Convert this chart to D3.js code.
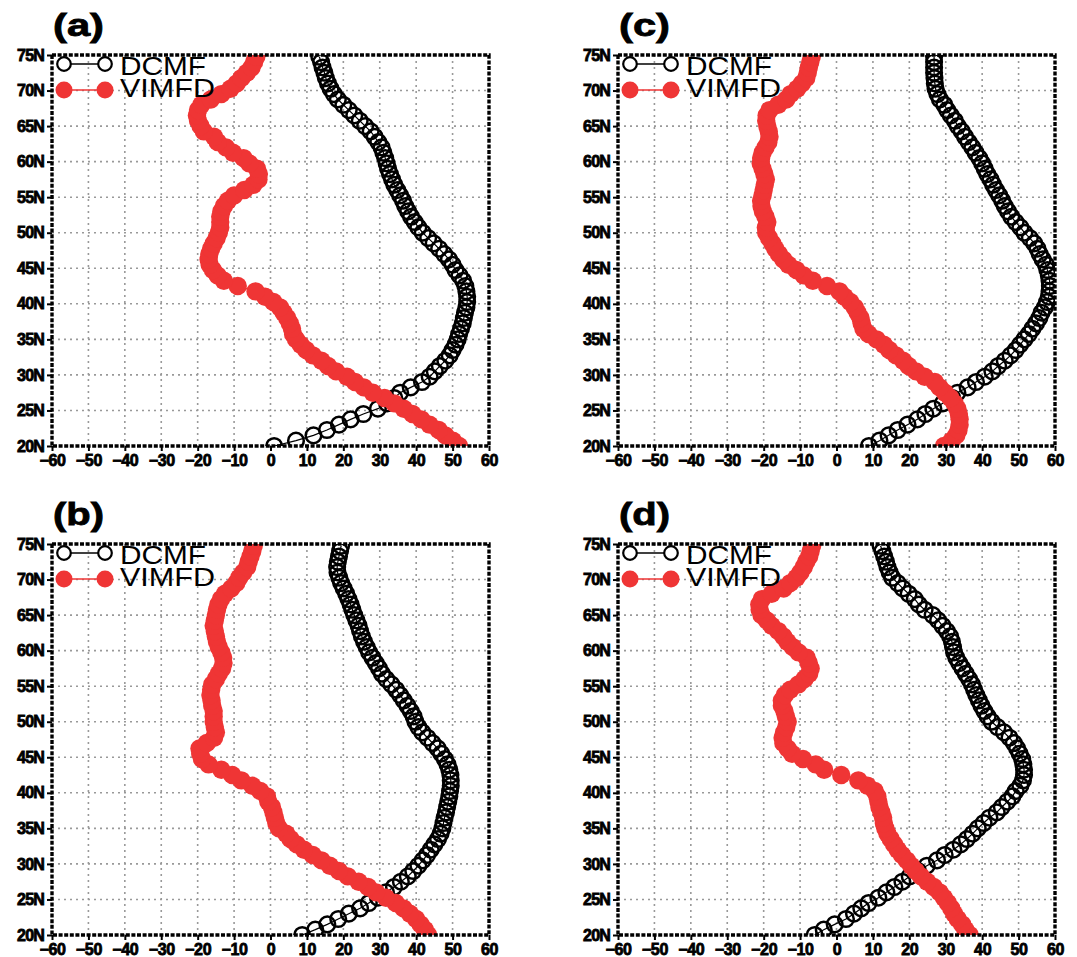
<!DOCTYPE html>
<html>
<head>
<meta charset="utf-8">
<script src="https://cdn.jsdelivr.net/npm/d3@7"></script>
<style>
  body { margin: 0; background: #fff; }
  svg text { font-family: "Liberation Sans", Arial, sans-serif; }
</style>
</head>
<body>
<div id="chart-area"></div>
<script>
// Data
// ****
const lat = [20, 20.75, 21.5, 22.25, 23, 23.75, 24.5, 25.25, 26, 26.75,
  27.5, 28.25, 29, 29.75, 30.5, 31.25, 32, 32.75, 33.5, 34.25,
  35, 35.75, 36.5, 37.25, 38, 38.75, 39.5, 40.25, 41, 41.75,
  42.5, 43.25, 44, 44.75, 45.5, 46.25, 47, 47.75, 48.5, 49.25,
  50, 50.75, 51.5, 52.25, 53, 53.75, 54.5, 55.25, 56, 56.75,
  57.5, 58.25, 59, 59.75, 60.5, 61.25, 62, 62.75, 63.5, 64.25,
  65, 65.75, 66.5, 67.25, 68, 68.75, 69.5, 70.25, 71, 71.75,
  72.5, 73.25, 74, 74.75]

const xTicks = [-60, -50, -40, -30, -20, -10, 0, 10, 20, 30, 40, 50, 60]
const yTicks = [20, 25, 30, 35, 40, 45, 50, 55, 60, 65, 70, 75]
const seriesNames = ["DCMF", "VIMFD"]

const dcmfA = [1, 7, 11.8, 15.5, 18.8, 22, 25.5, 29.5, 32, 34,
  35.6, 38.5, 41.6, 43.7, 45.1, 46.5, 48, 49.2, 50, 50.8,
  51.4, 51.8, 52.3, 52.8, 53.1, 53.4, 53.8, 54, 54, 53.8,
  53.5, 52.9, 51.9, 50.8, 50, 49, 47.7, 46.3, 44.8, 43.3,
  41.8, 40.6, 39.6, 38.6, 37.8, 37, 36.4, 35.6, 34.8, 34,
  33.4, 32.8, 32.3, 31.9, 31.5, 31, 30.5, 29.6, 28.6, 27.5,
  26, 24.5, 23, 21.5, 20, 18.5, 17.4, 16.5, 15.8, 15.2,
  14.8, 14.3, 13.9, 13.4]
const vimfdA = [51.8, 50.1, 48, 46.2, 43.7, 41.4, 39, 36.6, 34, 31.3,
  28.1, 25.6, 23.2, 21, 18, 15.8, 14, 11.6, 9.8, 8.3,
  7, 6.2, 5.9, 5.3, 4.6, 3.6, 2.6, 0.8, -1.5, -4.1,
  -9, -12.8, -14.5, -15.8, -16.7, -17, -16.8, -16.3, -15.6, -14.8,
  -14.2, -13.8, -13.8, -13.8, -13.5, -12.8, -11.7, -10, -7.2, -4.7,
  -3.3, -3.2, -3.7, -5.8, -7.4, -10.3, -12.2, -14.5, -15.5, -18.3,
  -19.2, -19.9, -20.2, -19.9, -19, -16.4, -13.5, -11, -9.3, -8,
  -6.5, -5.2, -4.5, -3.9]

const dcmfB = [8.7, 12.3, 15.6, 18.6, 21.5, 24.6, 27, 29.5, 31.7, 33.9,
  35.8, 37.7, 39.2, 40.6, 41.8, 43, 44, 45, 46, 46.7,
  47.2, 47.5, 47.8, 48.2, 48.5, 48.8, 49.1, 49.3, 49.5, 49.5,
  49.4, 49.1, 48.6, 47.9, 46.9, 45.9, 44.5, 43.1, 41.7, 40.6,
  39.8, 39.3, 38.5, 37.6, 36.6, 35.6, 34.5, 33.2, 31.8, 30.6,
  29.8, 28.9, 28, 27.1, 26.4, 25.7, 25.1, 24.6, 24.2, 23.6,
  23, 22.5, 22, 21.4, 20.8, 20.1, 19.4, 18.9, 18.4, 18.3,
  18.5, 18.8, 19.1, 19.4]
const vimfdB = [43.3, 42.4, 41.2, 40, 38.3, 36.5, 34.4, 31.7, 29, 26.8,
  24.2, 21.2, 18.8, 16.3, 14, 11.6, 9.2, 7.2, 5.5, 4.3,
  2.3, 1.6, 1.2, 0.8, 0.4, -0.6, -1, -2.8, -5, -8,
  -10.5, -13.5, -17, -18.8, -19.3, -19.5, -17.5, -15.5, -15, -15.3,
  -15.6, -15.6, -15.6, -16, -16.2, -16.5, -16.3, -16, -15, -14.2,
  -13.3, -12.9, -13, -13.5, -14.2, -14.7, -15, -15.3, -15.6, -15.3,
  -15, -14.7, -14.3, -13.6, -12.5, -10.8, -9.4, -8.6, -7.5, -6.4,
  -6, -5.5, -5, -4.6]

const dcmfC = [8.9, 11.8, 14.3, 16.8, 19.5, 22.2, 24.4, 26.6, 29.2, 31.8,
  33.2, 36, 38.3, 40.7, 42.8, 44.4, 46.2, 47.8, 49.2, 50.4,
  51.6, 52.8, 53.8, 54.8, 55.7, 56.3, 57.2, 57.8, 58.3, 58.5,
  58.6, 58.5, 58.3, 57.9, 57.5, 56.6, 55.8, 55.2, 54.3, 53.1,
  51.6, 50.5, 49.2, 48, 47.1, 46.2, 45.5, 44.7, 43.8, 43,
  42.3, 41.4, 40.7, 40, 39.2, 38.2, 37.3, 36.3, 35.3, 34.4,
  33.3, 32.5, 31.4, 30.4, 29.6, 28.4, 27.7, 27.2, 27, 26.9,
  26.8, 26.8, 26.8, 26.8]
const vimfdC = [29.5, 31.6, 32.9, 33.5, 33.8, 33.8, 33.6, 33.2, 32.4, 31.3,
  29.8, 28.3, 27, 24.2, 21.8, 19.8, 18.3, 16.3, 14.5, 13,
  11, 8.8, 7.4, 6.9, 6.6, 5.8, 5, 3.8, 2.2, 0.8,
  -2.6, -6.5, -9, -11, -13.2, -14.6, -15.8, -16.8, -17.6, -18.5,
  -19.3, -19.4, -19, -19.5, -20.2, -20.6, -20.7, -20.3, -20, -19.7,
  -19.4, -19.8, -20.3, -20.8, -20.7, -20.3, -19.5, -18.7, -18.4, -18.6,
  -19, -19.3, -19.2, -18.4, -16, -13.8, -12.6, -10.8, -9.5, -8.3,
  -7.9, -7.6, -7.2, -6.8]

const dcmfD = [-6, -3.5, -0.5, 2.6, 4.8, 6.8, 8.8, 11.5, 13.7, 15.9,
  18.1, 20.1, 22.4, 24.8, 27.6, 29.7, 32.1, 34.1, 35.8, 37.4,
  38.8, 40.4, 42, 44, 45.4, 46.9, 48.3, 49.2, 50.5, 51.2,
  51.5, 51.5, 51.3, 51, 50.3, 49.6, 48.7, 47.5, 46, 44.2,
  42.6, 41.5, 40.6, 39.8, 39.1, 38.4, 37.8, 37.2, 36.4, 35.5,
  34.6, 33.7, 32.9, 32.3, 32, 31.7, 31.2, 30.3, 29.1, 27.9,
  26.4, 24.2, 22.6, 21.5, 19.8, 18.2, 16.8, 15.3, 14.6, 14,
  13.6, 13.1, 12.6, 12.1]
const vimfdD = [36.6, 35.4, 34.5, 33.3, 32.3, 31.5, 30.6, 29.5, 28.3, 26.7,
  24.9, 23.2, 21.8, 20.5, 19.3, 18, 16.8, 15.8, 14.9, 14,
  13.4, 13, 12.8, 12.3, 11.8, 11.5, 11.2, 10.5, 8.5, 6,
  1.3, -3.4, -5.7, -9.2, -12.2, -13.4, -14.6, -14.8, -14.4, -13.8,
  -13.4, -13.9, -14.3, -15, -15, -14.2, -12.7, -10.5, -8.8, -7.5,
  -7.1, -7.6, -8.2, -10.4, -12, -13.5, -14.6, -16, -17.8, -19.1,
  -20.6, -21.1, -21.2, -20.5, -17.8, -14.5, -12.7, -11, -9.9, -9,
  -8.3, -7.5, -7.1, -6.7]

// Config
// ******
const width = 1077, height = 957
const plotW = 437, plotH = 391
const red = "#ef3535"

const panels = [
  {label: "(a)", left: 52, top: 55, dcmf: dcmfA, vimfd: vimfdA},
  {label: "(b)", left: 52, top: 544, dcmf: dcmfB, vimfd: vimfdB},
  {label: "(c)", left: 618, top: 55, dcmf: dcmfC, vimfd: vimfdC},
  {label: "(d)", left: 618, top: 544, dcmf: dcmfD, vimfd: vimfdD}
]

const svg = d3.select("#chart-area")
  .append("svg")
    .attr("width", width)
    .attr("height", height)

svg.append("rect").attr("width", width).attr("height", height).attr("fill", "#fff")

// Scales
const x = d3.scaleLinear().domain([-60, 60]).range([0, plotW])
const y = d3.scaleLinear().domain([20, 75]).range([plotH, 0])

panels.forEach((p, i) => drawPanel(p, i))

// Draw one panel
// **************
function drawPanel(p, i) {
  const g = svg.append("g").attr("transform", "translate(" + p.left + ", " + p.top + ")")

  // Panel label
  svg.append("text")
    .attr("x", p.left + 1)
    .attr("y", p.top - 19)
    .attr("font-size", 32)
    .attr("font-weight", "bold")
    .attr("stroke", "#000").attr("stroke-width", 0.8)
    .attr("textLength", 51).attr("lengthAdjust", "spacingAndGlyphs")
    .text(p.label)

  // Grid
  g.append("g").selectAll("line")
    .data(xTicks.slice(1, -1)).join("line")
      .attr("x1", d => x(d)).attr("x2", d => x(d))
      .attr("y1", 0).attr("y2", plotH)
      .attr("stroke", "#999").attr("stroke-width", 1.6)
      .attr("stroke-dasharray", "2,4")
  g.append("g").selectAll("line")
    .data(yTicks.slice(1, -1)).join("line")
      .attr("y1", d => y(d)).attr("y2", d => y(d))
      .attr("x1", 0).attr("x2", plotW)
      .attr("stroke", "#999").attr("stroke-width", 1.6)
      .attr("stroke-dasharray", "2,4")

  // Clip
  const clipId = "clip" + i
  g.append("clipPath").attr("id", clipId)
    .append("rect").attr("width", plotW).attr("height", plotH)
  const plot = g.append("g").attr("clip-path", "url(#" + clipId + ")")

  const line = d3.line().x(d => x(d[0])).y(d => y(d[1]))

  // DCMF: open circles
  const dc = p.dcmf.map((v, k) => [v, lat[k]])
  plot.append("path").attr("d", line(dc))
    .attr("fill", "none").attr("stroke", "#000").attr("stroke-width", 1.2)
  plot.append("g").selectAll("circle")
    .data(dc).join("circle")
      .attr("cx", d => x(d[0])).attr("cy", d => y(d[1]))
      .attr("r", 7.8)
      .attr("fill", "none").attr("stroke", "#000").attr("stroke-width", 2.5)

  // VIMFD: filled red circles
  const vm = p.vimfd.map((v, k) => [v, lat[k]])
  plot.append("path").attr("d", line(vm))
    .attr("fill", "none").attr("stroke", red).attr("stroke-width", 1.5)
  plot.append("g").selectAll("circle")
    .data(vm).join("circle")
      .attr("cx", d => x(d[0])).attr("cy", d => y(d[1]))
      .attr("r", 9.2)
      .attr("fill", red)

  // Axes
  const yAxis = d3.axisLeft(y).tickValues(yTicks).tickFormat(d => d + "N").tickSize(5).tickPadding(3)
  const xAxis = d3.axisBottom(x).tickValues(xTicks).tickFormat(d => d < 0 ? "\u2212" + (-d) : d).tickSize(5).tickPadding(2)

  const ya = g.append("g").call(yAxis)
  const xa = g.append("g").attr("transform", "translate(0, " + plotH + ")").call(xAxis)
  ;[ya, xa].forEach(a => {
    a.select(".domain").remove()
    a.selectAll("line").attr("stroke", "#000").attr("stroke-width", 2)
    a.selectAll("text")
      .attr("fill", "#000").attr("stroke", "#000").attr("stroke-width", 0.8)
      .style("font-size", "16px").style("font-weight", "bold")
      .style("font-family", "'Liberation Sans', Arial, sans-serif")
  })
  ya.selectAll("text").attr("letter-spacing", -0.8)
  xa.selectAll("text").attr("dy", "0.8em").attr("letter-spacing", -0.3)

  // Frame
  g.append("rect")
    .attr("width", plotW).attr("height", plotH)
    .attr("fill", "none").attr("stroke", "#000").attr("stroke-width", 3.4)
    .attr("stroke-dasharray", "4,1.6")

  // Legend
  const leg = g.append("g")
  const rows = [
    {name: seriesNames[0], cy: 9, textY: 20, len: 86},
    {name: seriesNames[1], cy: 35, textY: 42, len: 95}
  ]
  rows.forEach((r, k) => {
    leg.append("line")
      .attr("x1", 12).attr("x2", 53).attr("y1", r.cy).attr("y2", r.cy)
      .attr("stroke", k === 0 ? "#000" : red).attr("stroke-width", 1.6)
    leg.selectAll(null).data([12, 53]).join("circle")
      .attr("cx", d => d).attr("cy", r.cy)
      .attr("r", k === 0 ? 6.8 : 8.5)
      .attr("fill", k === 0 ? "#fff" : red)
      .attr("stroke", k === 0 ? "#000" : "none").attr("stroke-width", 2.2)
    leg.append("text")
      .attr("x", 68).attr("y", r.textY)
      .style("font-family", "'Liberation Sans', Arial, sans-serif")
      .style("font-size", "22px")
      .attr("transform", "translate(0," + r.textY + ") scale(1,1.2) translate(0," + (-r.textY) + ")")
      .attr("textLength", r.len).attr("lengthAdjust", "spacingAndGlyphs")
      .attr("fill", "#000")
      .text(r.name)
  })
}
</script>
</body>
</html>
